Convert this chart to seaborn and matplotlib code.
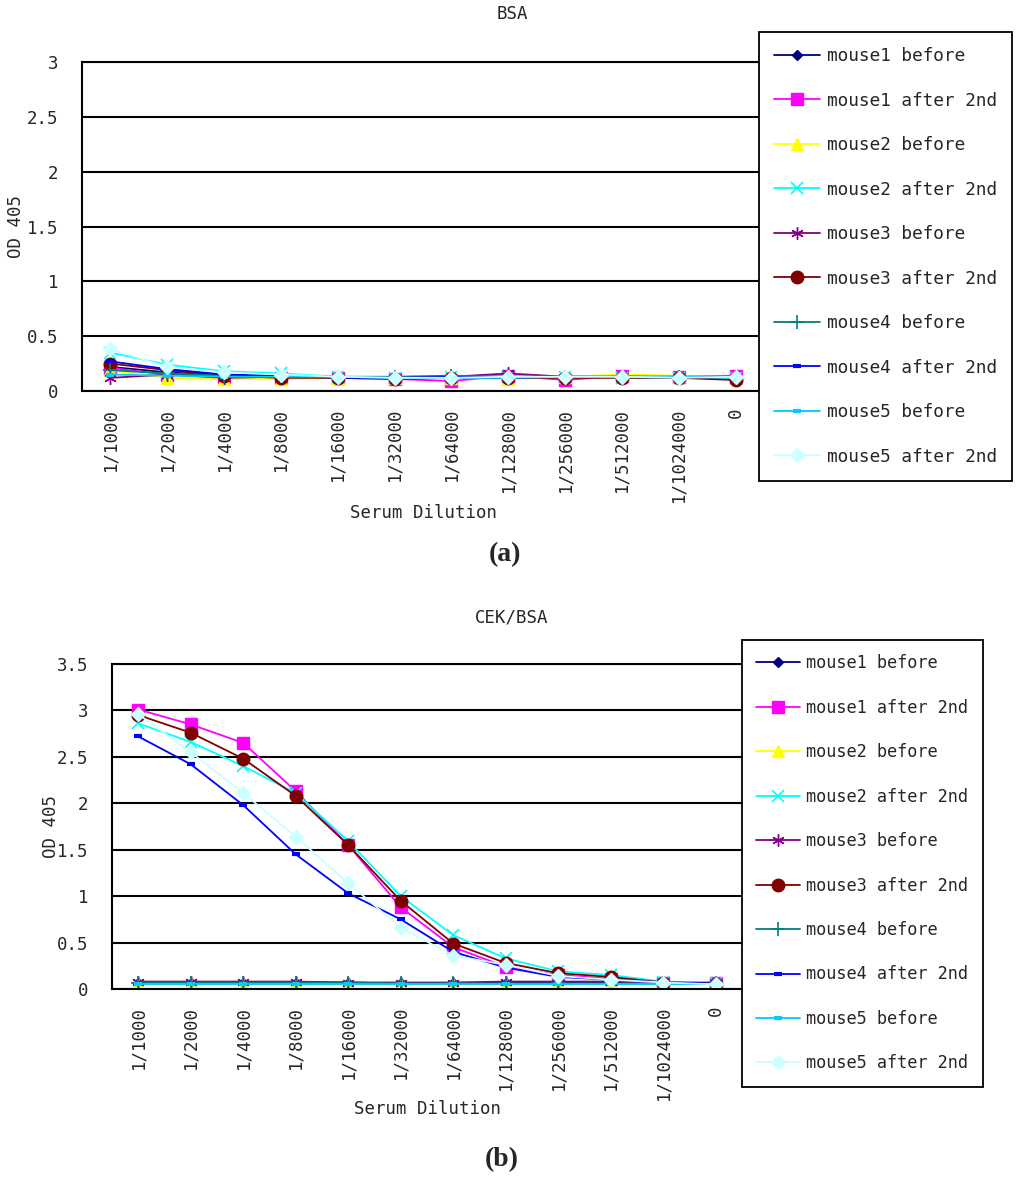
import matplotlib
matplotlib.use("Agg")
import matplotlib.pyplot as plt
import seaborn as sns
import numpy as np

sns.set_style("white")
plt.rcParams['font.family'] = ['DejaVu Sans Mono', 'DejaVu Sans']

categories = ["1/1000", "1/2000", "1/4000", "1/8000", "1/16000", "1/32000",
              "1/64000", "1/128000", "1/256000", "1/512000", "1/1024000", "0"]
series_names = ["mouse1 before", "mouse1 after 2nd", "mouse2 before", "mouse2 after 2nd",
                "mouse3 before", "mouse3 after 2nd", "mouse4 before", "mouse4 after 2nd",
                "mouse5 before", "mouse5 after 2nd"]

# Panel (a): BSA
bsa_m1_before = [0.22, 0.17, 0.14, 0.13, 0.12, 0.12, 0.12, 0.13, 0.13, 0.13, 0.13, 0.13]
bsa_m1_after = [0.21, 0.15, 0.13, 0.12, 0.12, 0.11, 0.09, 0.14, 0.10, 0.14, 0.13, 0.14]
bsa_m2_before = [0.19, 0.12, 0.11, 0.11, 0.12, 0.12, 0.12, 0.11, 0.13, 0.15, 0.14, 0.13]
bsa_m2_after = [0.35, 0.24, 0.18, 0.16, 0.13, 0.12, 0.13, 0.14, 0.13, 0.12, 0.12, 0.12]
bsa_m3_before = [0.12, 0.15, 0.12, 0.13, 0.13, 0.12, 0.13, 0.16, 0.13, 0.13, 0.12, 0.13]
bsa_m3_after = [0.25, 0.19, 0.14, 0.12, 0.12, 0.11, 0.12, 0.12, 0.12, 0.12, 0.12, 0.10]
bsa_m4_before = [0.19, 0.16, 0.14, 0.14, 0.13, 0.13, 0.14, 0.13, 0.13, 0.13, 0.13, 0.13]
bsa_m4_after = [0.27, 0.20, 0.15, 0.14, 0.12, 0.12, 0.13, 0.12, 0.13, 0.13, 0.13, 0.13]
bsa_m5_before = [0.15, 0.14, 0.13, 0.13, 0.13, 0.12, 0.12, 0.12, 0.13, 0.13, 0.13, 0.12]
bsa_m5_after = [0.38, 0.22, 0.17, 0.15, 0.13, 0.12, 0.12, 0.13, 0.13, 0.13, 0.12, 0.13]

# Panel (b): CEK/BSA
cek_m1_before = [0.07, 0.07, 0.07, 0.07, 0.07, 0.06, 0.06, 0.07, 0.07, 0.07, 0.06, 0.06]
cek_m1_after = [3.01, 2.85, 2.65, 2.13, 1.55, 0.88, 0.45, 0.24, 0.15, 0.11, 0.07, 0.06]
cek_m2_before = [0.05, 0.05, 0.05, 0.05, 0.05, 0.05, 0.05, 0.05, 0.05, 0.05, 0.05, 0.05]
cek_m2_after = [2.86, 2.66, 2.40, 2.11, 1.59, 1.00, 0.58, 0.33, 0.19, 0.15, 0.08, 0.06]
cek_m3_before = [0.08, 0.08, 0.08, 0.08, 0.07, 0.07, 0.07, 0.08, 0.08, 0.08, 0.07, 0.07]
cek_m3_after = [2.95, 2.76, 2.48, 2.08, 1.55, 0.95, 0.49, 0.28, 0.17, 0.13, 0.07, 0.05]
cek_m4_before = [0.07, 0.07, 0.07, 0.07, 0.07, 0.06, 0.06, 0.06, 0.06, 0.06, 0.06, 0.06]
cek_m4_after = [2.72, 2.42, 1.98, 1.45, 1.03, 0.75, 0.40, 0.23, 0.13, 0.10, 0.07, 0.06]
cek_m5_before = [0.05, 0.05, 0.05, 0.05, 0.05, 0.05, 0.05, 0.05, 0.05, 0.05, 0.05, 0.05]
cek_m5_after = [2.96, 2.55, 2.11, 1.64, 1.14, 0.66, 0.36, 0.26, 0.14, 0.10, 0.07, 0.05]

bsa_series = [bsa_m1_before, bsa_m1_after, bsa_m2_before, bsa_m2_after, bsa_m3_before,
              bsa_m3_after, bsa_m4_before, bsa_m4_after, bsa_m5_before, bsa_m5_after]
cek_series = [cek_m1_before, cek_m1_after, cek_m2_before, cek_m2_after, cek_m3_before,
              cek_m3_after, cek_m4_before, cek_m4_after, cek_m5_before, cek_m5_after]

colors = ["#000080", "#FF00FF", "#FFFF00", "#00FFFF", "#800080",
          "#800000", "#008080", "#0000FF", "#00CCFF", "#CCFFFF"]
markers = ["D", "s", "^", "x", (6, 2, 0), "o", "+", "_", "_", "D"]
msizes = [5.5, 9, 8, 9, 9, 9, 10, 6, 6, 7]
mews = [1, 1, 1, 1.2, 1, 1, 1.2, 3, 3, 1]

W, H = 1024, 1184
fig = plt.figure(figsize=(W / 100, H / 100), dpi=100)

mono = 'DejaVu Sans Mono'
fs = 12.5


def draw_panel(ax_rect, series_list, ymax, title, title_xy, legend_xy, leg_fs, leg_sp,
               label, label_xy):
    ax = fig.add_axes(ax_rect)
    x = np.arange(len(categories))
    for name, vals, c, m, ms, mew in zip(series_names, series_list, colors, markers, msizes, mews):
        sns.lineplot(x=x, y=vals, ax=ax, color=c, marker=m, markersize=ms,
                     markeredgecolor=c, markerfacecolor=c, markeredgewidth=mew,
                     linewidth=1.3, label=name, sort=False)
    ax.set_xlim(-0.5, len(categories) - 0.5)
    ax.set_ylim(0, ymax)
    ticks = np.arange(0, ymax + 0.01, 0.5)
    ax.set_yticks(ticks)
    ax.set_yticklabels([("%g" % v) for v in ticks], fontsize=fs, family=mono)
    ax.yaxis.grid(True, color='black', linewidth=1.5)
    ax.set_axisbelow(True)
    ax.tick_params(axis='y', length=0, pad=17)
    ax.set_xticks(x)
    ax.set_xticklabels(categories, rotation=90, fontsize=fs, family=mono)
    ax.tick_params(axis='x', which='major', length=0, pad=12)
    ax.set_xticks(np.arange(-0.5, len(categories) + 0.5, 1), minor=True)
    ax.tick_params(axis='x', which='minor', length=6, width=1.5, color='black', direction='out')
    ax.spines['right'].set_visible(False)
    for s in ['left', 'bottom', 'top']:
        ax.spines[s].set_color('black')
        ax.spines[s].set_linewidth(1.5)
    ax.set_xlabel("Serum Dilution", fontsize=fs, family=mono)
    ax.set_ylabel("OD 405", fontsize=fs, family=mono)
    ax.xaxis.set_label_coords(0.5, -0.343)
    ax.yaxis.set_label_coords(-0.083, 0.5)
    leg = ax.legend(loc='upper left', bbox_to_anchor=legend_xy, bbox_transform=fig.transFigure,
                    frameon=True, fancybox=False, edgecolor='black', framealpha=1,
                    borderpad=0.85, labelspacing=leg_sp, handlelength=2.6, handletextpad=0.35,
                    borderaxespad=0, prop={'family': mono, 'size': leg_fs})
    leg.get_frame().set_linewidth(1.3)
    leg.set_zorder(10)
    fig.text(title_xy[0] / W, 1 - title_xy[1] / H, title, ha='center', va='center',
             fontsize=fs, family=mono)
    fig.text(label_xy[0] / W, 1 - label_xy[1] / H, label, ha='center', va='center',
             fontsize=20, family='Liberation Serif', fontweight='bold')
    return ax


draw_panel([82 / W, 1 - 391 / H, (764 - 82) / W, (391 - 62) / H], bsa_series, 3.0,
           "BSA", (512, 14), (759 / W, 1 - 32 / H), 12.8, 1.49, "(a)", (505, 555))
draw_panel([112 / W, 1 - 989 / H, (742 - 112) / W, (989 - 664) / H], cek_series, 3.5,
           "CEK/BSA", (512, 618), (742 / W, 1 - 640 / H), 12.2, 1.56, "(b)", (502, 1160))

fig.savefig("out.png", dpi=100, facecolor='white')
